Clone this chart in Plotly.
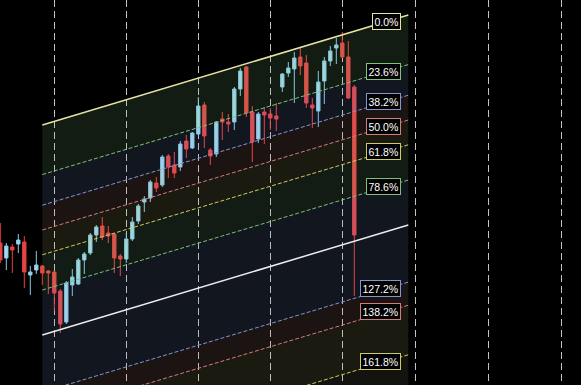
import plotly.graph_objects as go

# ---- candle data (bar index, OHLC) ----
opens  = [257,242,253,256,258,225,230,234,229,228,209,178,215,216,240,247,265,274,267,266,
          244,241,261,279,298,302,317,315,344,335,333,359,352,366,395,350,346,381,378,378,
          411,433,388,361,388,386,384,413,427,431,443,437,395,389,419,439,452,457,443,413]
highs  = [277,257,256,266,264,234,249,235,230,229,211,219,231,242,248,267,275,283,274,267,
          246,267,283,296,304,320,323,345,346,348,359,365,368,403,398,352,379,388,386,413,
          432,434,394,388,393,392,397,427,438,448,452,445,402,429,443,454,462,468,459,415]
lows   = [237,230,227,247,212,205,226,215,206,189,167,176,204,215,226,245,258,260,257,227,
          224,237,259,276,288,298,308,313,322,322,329,342,351,365,352,335,343,360,368,370,
          404,383,338,357,356,370,369,408,423,397,425,392,372,373,396,434,436,442,401,204]
closes = [240,254,250,260,228,228,235,227,227,207,176,217,223,240,246,265,273,263,264,242,
          241,261,278,294,301,318,312,343,333,327,356,351,367,394,364,344,378,378,376,411,
          429,387,358,386,385,382,381,426,432,442,434,397,392,418,439,449,455,443,402,265]
bars = list(range(len(opens)))

# ---- Fibonacci channel ----
chan_x = [7, 68]            # start / end bar
chan_top = [375, 485]       # 0% line price at start / end
chan_width = 210            # price distance of the 100% level
levels = [0.0, 0.236, 0.382, 0.5, 0.618, 0.786, 1.0, 1.272, 1.382, 1.618]
level_colors = ["#e6e4a2", "#7cc47a", "#8494d2", "#d27c7c", "#cccc62",
                "#78c07c", "#ececec", "#8494d2", "#d27c7c", "#cccc62"]
level_dash = ["solid", "4px,2px", "4px,2px", "4px,2px", "4px,2px",
              "4px,2px", "solid", "4px,2px", "4px,2px", "4px,2px"]
level_labelled = [True, True, True, True, True, True, False, True, True, True]
fill_end_level = 2.0
band_fills = ["rgba(130,185,125,0.15)", "rgba(120,148,210,0.15)", "rgba(190,125,125,0.15)",
              "rgba(175,175,112,0.15)", "rgba(125,188,132,0.15)", "rgba(120,148,210,0.15)",
              "rgba(120,148,210,0.15)", "rgba(190,125,125,0.15)", "rgba(175,175,112,0.15)",
              "rgba(150,150,120,0.13)"]
label_x = 66.8
label_ref_x = 64.3

grid_x = [9, 21, 33, 45, 57, 69.2, 81.4, 93.6]

def lvl_y(lvl, i):
    return chan_top[i] - lvl * chan_width

fig = go.Figure()

all_lv = levels + [fill_end_level]
for k in range(len(all_lv) - 1):
    a, b = all_lv[k], all_lv[k + 1]
    fig.add_trace(go.Scatter(
        x=[chan_x[0], chan_x[1], chan_x[1], chan_x[0], chan_x[0]],
        y=[lvl_y(a, 0), lvl_y(a, 1), lvl_y(b, 1), lvl_y(b, 0), lvl_y(a, 0)],
        mode="lines", line=dict(width=0), fill="toself",
        fillcolor=band_fills[k], hoverinfo="skip", showlegend=False))

for lv, col, dsh in zip(levels, level_colors, level_dash):
    w = 1.5 if dsh == "solid" else 1
    fig.add_trace(go.Scatter(
        x=chan_x, y=[lvl_y(lv, 0), lvl_y(lv, 1)], mode="lines",
        line=dict(color=col, width=w, dash=dsh), hoverinfo="skip", showlegend=False))

fig.add_trace(go.Candlestick(
    x=bars, open=opens, high=highs, low=lows, close=closes,
    increasing=dict(line=dict(color="#86cbea", width=1), fillcolor="#a8dbe6"),
    decreasing=dict(line=dict(color="#f23a3a", width=1), fillcolor="#d94a4a"),
    whiskerwidth=0, showlegend=False, hoverinfo="skip"))

slope = (chan_top[1] - chan_top[0]) / (chan_x[1] - chan_x[0])
for lv, col, show in zip(levels, level_colors, level_labelled):
    if not show:
        continue
    yv = chan_top[0] + slope * (label_ref_x - chan_x[0]) - lv * chan_width
    fig.add_annotation(
        x=label_x, y=yv, xref="x", yref="y", xanchor="right", yanchor="middle",
        text=f"{lv*100:.1f}%", showarrow=False,
        font=dict(family="Liberation Sans, Arial, sans-serif", size=10.5, color="#ffffff"),
        bgcolor="#000000", bordercolor=col, borderwidth=1, borderpad=1.5)

fig.update_layout(
    width=581, height=385, margin=dict(l=0, r=0, t=0, b=0),
    paper_bgcolor="#000000", plot_bgcolor="#000000",
    boxgap=0.2,
    xaxis=dict(range=[-0.05, 96.78], tickvals=grid_x, showticklabels=False,
               showgrid=True, gridcolor="#c4c4c4", gridwidth=1, griddash="7px,4px",
               zeroline=False, showline=False, ticks="", rangeslider=dict(visible=False)),
    yaxis=dict(range=[115, 500], showgrid=False, showticklabels=False,
               zeroline=False, showline=False, ticks=""),
    showlegend=False, hovermode=False)

fig.write_html("out.html", config={"displayModeBar": False},
               post_script="document.body.style.margin='0';document.body.style.padding='0';"
                           "document.body.style.background='#000';"
                           "document.body.style.overflow='hidden';")
